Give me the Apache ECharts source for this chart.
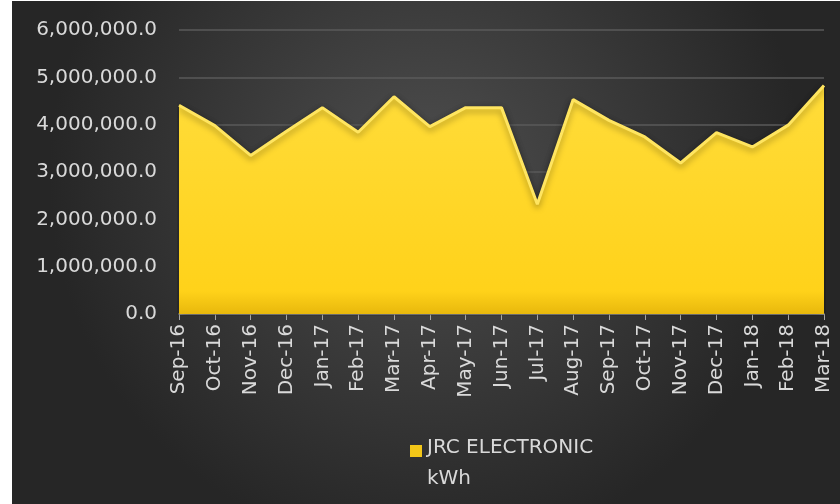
<html lang="en">
  <head>
    <meta charset="UTF-8" />
    <title>JRC ELECTRONIC kWh</title>
    <style>
      html, body { margin: 0; padding: 0; background: #ffffff; }
      #main { position: absolute; left: 12px; top: 1px; width: 828px; height: 503px; }
    </style>
  </head>
  <body>
    <div id="main"></div>

    <script src="https://cdn.jsdelivr.net/npm/echarts@6/dist/echarts.min.js"></script>
    <script>
      const months = ['Sep-16', 'Oct-16', 'Nov-16', 'Dec-16', 'Jan-17', 'Feb-17', 'Mar-17', 'Apr-17', 'May-17', 'Jun-17',
        'Jul-17', 'Aug-17', 'Sep-17', 'Oct-17', 'Nov-17', 'Dec-17', 'Jan-18', 'Feb-18', 'Mar-18']
      const kwh = [4410000, 3980000, 3350000, 3860000, 4360000, 3840000, 4590000, 3960000, 4360000, 4360000,
        2320000, 4530000, 4090000, 3740000, 3190000, 3830000, 3530000, 3990000, 4830000]
      const seriesName = 'JRC ELECTRONIC\nkWh'

      let mCharts = echarts.init(document.querySelector('#main'))
      const fmt = v => v.toLocaleString('en-US', { minimumFractionDigits: 1, maximumFractionDigits: 1 })
      const yellow = new echarts.graphic.LinearGradient(0, 0, 0, 1, [
        { offset: 0, color: '#ffdc3a' },
        { offset: 0.9, color: '#ffd21a' },
        { offset: 1, color: '#e8b80c' }
      ])

      let option = {
        backgroundColor: {
          type: 'radial', x: 0.5, y: 0.35, r: 0.75,
          colorStops: [
            { offset: 0, color: '#4e4e4e' },
            { offset: 1, color: '#262626' }
          ]
        },
        textStyle: { fontFamily: 'DejaVu Sans' },
        grid: { left: 167, right: 16, top: 29, bottom: 190 },
        legend: {
          left: 393, top: 426,
          itemWidth: 12, itemHeight: 36, itemGap: 4,
          // square drawn at the top so it sits next to the first text line
          icon: 'path://M0,0L12,0L12,12L0,12Z M0,36L0.01,36Z',
          textStyle: { color: '#d9d9d9', fontSize: 20, lineHeight: 31 },
          data: [{ name: seriesName, itemStyle: { color: '#f2c618', borderWidth: 0 } }]
        },
        xAxis: {
          type: 'category',
          boundaryGap: false,
          data: months,
          axisLine: { lineStyle: { color: '#a6a6a6', width: 1.5 } },
          axisTick: { show: true, length: 6, lineStyle: { color: '#a6a6a6' } },
          axisLabel: { rotate: 90, color: '#d9d9d9', fontSize: 20, margin: 10, interval: 0 },
          splitLine: { show: false }
        },
        yAxis: {
          type: 'value',
          min: 0, max: 6000000, interval: 1000000,
          axisLine: { show: false },
          axisTick: { show: false },
          axisLabel: { color: '#d9d9d9', fontSize: 20, margin: 22, formatter: fmt },
          splitLine: { lineStyle: { color: '#5a5a5a', width: 1.5 } }
        },
        series: [
          {
            name: seriesName,
            type: 'line',
            data: kwh,
            symbol: 'none',
            lineStyle: { color: '#ffe560', width: 3, shadowColor: 'rgba(0,0,0,0.35)', shadowBlur: 6, shadowOffsetY: 3 },
            itemStyle: { color: '#f2c618' },
            areaStyle: { color: yellow, opacity: 1, shadowColor: 'rgba(0,0,0,0.4)', shadowBlur: 8, shadowOffsetY: 2 }
          }
        ]
      }
      mCharts.setOption(option)
    </script>
  </body>
</html>
